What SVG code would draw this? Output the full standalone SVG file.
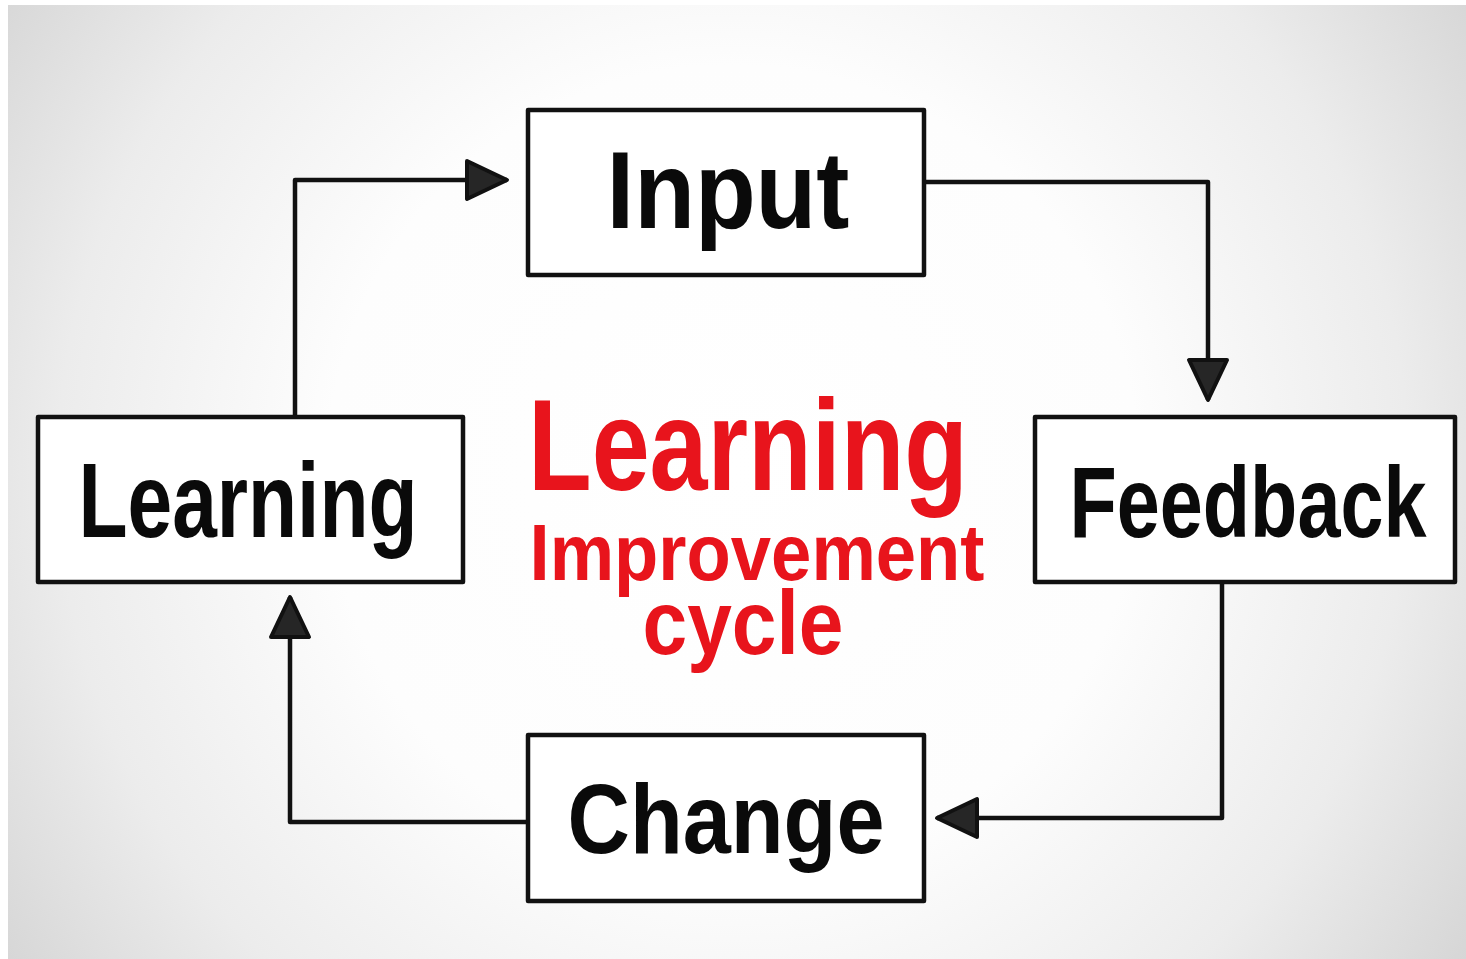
<svg xmlns="http://www.w3.org/2000/svg" width="1466" height="959" viewBox="0 0 1466 959">
  <defs>
    <radialGradient id="bg" cx="733" cy="470" r="900" gradientUnits="userSpaceOnUse">
      <stop offset="0" stop-color="#ffffff"/>
      <stop offset="0.45" stop-color="#fdfdfd"/>
      <stop offset="0.75" stop-color="#ececec"/>
      <stop offset="1" stop-color="#d4d4d4"/>
    </radialGradient>
    <marker id="arrow" markerUnits="userSpaceOnUse" markerWidth="46" markerHeight="44" refX="40" refY="19" orient="auto" viewBox="-3 -3 46 44">
      <path d="M0,0 L40,19 L0,38 Z" fill="#262626" stroke="#111" stroke-width="4" stroke-linejoin="round"/>
    </marker>
    <style>
      .box { fill: #ffffff; stroke: #111111; stroke-width: 4.5; stroke-linejoin: round; }
      .lbl { font-family: "Liberation Sans", Arial, sans-serif; font-weight: bold; fill: #0a0a0a; text-anchor: middle; }
      .title { font-family: "Liberation Sans", Arial, sans-serif; font-weight: bold; fill: #e8141c; text-anchor: middle; }
      .conn { fill: none; stroke: #111111; stroke-width: 4.5; stroke-linejoin: round; }
    </style>
  </defs>

  <rect x="0" y="0" width="1466" height="959" fill="#ffffff"/>
  <rect x="8" y="5" width="1458" height="954" fill="url(#bg)"/>

  <g id="connectors">
    <path class="conn" d="M295,417 V180 H507" marker-end="url(#arrow)"/>
    <path class="conn" d="M924,182 H1208 V400" marker-end="url(#arrow)"/>
    <path class="conn" d="M1222,582 V818 H937" marker-end="url(#arrow)"/>
    <path class="conn" d="M528,822 H290 V597" marker-end="url(#arrow)"/>
  </g>

  <g id="node-input">
    <rect class="box" x="528" y="110" width="396" height="165"/>
    <text class="lbl" x="728" y="228" font-size="110" textLength="243" lengthAdjust="spacingAndGlyphs">Input</text>
  </g>

  <g id="node-feedback">
    <rect class="box" x="1035" y="417" width="420" height="165"/>
    <text class="lbl" transform="translate(1248,537) scale(1,1.25)" x="0" y="0" font-size="80" textLength="357" lengthAdjust="spacingAndGlyphs">Feedback</text>
  </g>

  <g id="node-change">
    <rect class="box" x="528" y="735" width="396" height="166"/>
    <text class="lbl" x="726" y="853" font-size="98" textLength="317" lengthAdjust="spacingAndGlyphs">Change</text>
  </g>

  <g id="node-learning">
    <rect class="box" x="38" y="417" width="425" height="165"/>
    <text class="lbl" x="248" y="537" font-size="106" textLength="339" lengthAdjust="spacingAndGlyphs">Learning</text>
  </g>

  <g id="center-title">
    <text class="title"><tspan x="748" y="490" font-size="130" textLength="440" lengthAdjust="spacingAndGlyphs">Learning</tspan><tspan x="757" y="580" font-size="80" textLength="455" lengthAdjust="spacingAndGlyphs">Improvement</tspan><tspan x="743" y="654" font-size="90" textLength="201" lengthAdjust="spacingAndGlyphs">cycle</tspan></text>
  </g>
</svg>
